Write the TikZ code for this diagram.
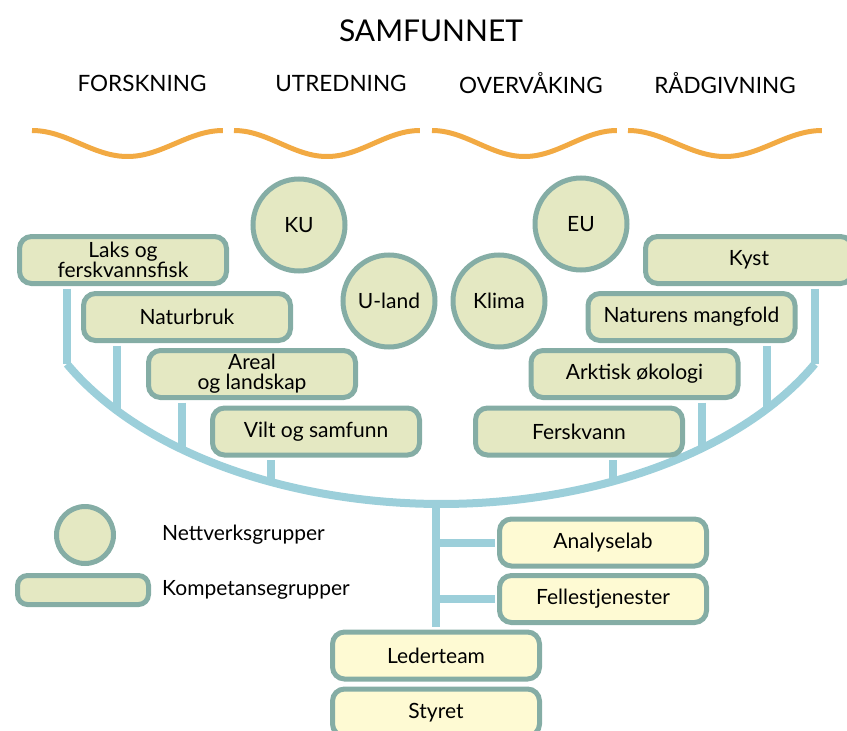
\documentclass[tikz,border=0pt]{standalone}
\usepackage{fontspec}
\setmainfont{Lato}
\definecolor{boxfill}{HTML}{E4E8C2}
\definecolor{bordc}{HTML}{85ADA5}
\definecolor{yelfill}{HTML}{FEFAD3}
\definecolor{conn}{HTML}{9CCFDA}
\definecolor{wave}{HTML}{F2AA43}
\newcommand{\boxfont}{\fontsize{21}{20}\selectfont}
\begin{document}
\begin{tikzpicture}[x=1pt,y=-1pt,
  cbox/.style={draw=bordc, line width=5pt, fill=boxfill, rounded corners=12pt,
    minimum width=207pt, minimum height=47pt, inner sep=0pt, align=center, font=\boxfont},
  ybox/.style={cbox, fill=yelfill},
  netw/.style={circle, draw=bordc, line width=5pt, fill=boxfill, minimum size=92pt,
    inner sep=0pt, font=\boxfont},
  link/.style={draw=conn, line width=8pt},
  wavy/.style={draw=wave, line width=5pt},
  head/.style={font=\fontsize{22.5}{24}\selectfont, inner sep=0pt},
  legtext/.style={font=\boxfont, anchor=west, inner sep=0pt}]
\useasboundingbox (0,0) rectangle (847,731);

% titles
\node[font=\fontsize{30}{32}\selectfont, inner sep=0pt] (samf) at (431,31) {SAMFUNNET};
\node[head] (h1) at (142,83) {FORSKNING};
\node[head] (h2) at (341,83) {UTREDNING};
\node[head] (h3) at (531,83) {OVERVÅKING};
\node[head] (h4) at (725,83) {RÅDGIVNING};

% waves
\foreach \xa/\xb in {32/223, 234/420, 432/617, 628/822}
  \draw[wavy] plot[domain=0:1, samples=60, smooth] ({\xa+\x*(\xb-\xa)}, {143.5-13*cos(360*\x)});

% arc coordinates
\coordinate (aL) at (67,364);
\coordinate (a2) at (117,411);
\coordinate (a3) at (182,450);
\coordinate (a4) at (271,483);
\coordinate (ab) at (436,505);
\coordinate (b4) at (613,482);
\coordinate (b3) at (702,449);
\coordinate (b2) at (767,410);
\coordinate (aR) at (815,364);

\draw[link] (aL) arc[start angle=207.1, end angle=332.9, x radius=420pt, y radius=257pt];

% competence groups
\node[cbox] (laks) at (123,260) {Laks og\\ferskvannsfisk};
\node[cbox] (natur) at (187,317) {Naturbruk};
\node[cbox] (areal) at (252,374) {Areal\\og landskap};
\node[cbox] (vilt) at (316,431.5) {Vilt og samfunn};
\node[cbox] (kyst) at (749,260) {Kyst};
\node[cbox] (mang) at (691.5,317) {Naturens mangfold};
\node[cbox] (arkt) at (634.5,374) {Arktisk økologi};
\node[cbox] (fersk) at (579,431.5) {Ferskvann};

% verticals from boxes to arc
\draw[link] ([yshift=-2.5pt]aL |- laks.south) -- (aL);
\draw[link] ([yshift=-2.5pt]a2 |- natur.south) -- (a2);
\draw[link] ([yshift=-2.5pt]a3 |- areal.south) -- (a3);
\draw[link] ([yshift=-2.5pt]a4 |- vilt.south) -- (a4);
\draw[link] ([yshift=-2.5pt]aR |- kyst.south) -- (aR);
\draw[link] ([yshift=-2.5pt]b2 |- mang.south) -- (b2);
\draw[link] ([yshift=-2.5pt]b3 |- arkt.south) -- (b3);
\draw[link] ([yshift=-2.5pt]b4 |- fersk.south) -- (b4);

% network groups
\node[netw] (ku) at (299,225) {KU};
\node[netw] (uland) at (389,301) {U-land};
\node[netw] (klima) at (499,301) {Klima};
\node[netw] (eu) at (581,224) {EU};

% lower part
\node[ybox] (anal) at (603,542.5) {Analyselab};
\node[ybox] (fell) at (603,599) {Fellestjenester};
\node[ybox] (led) at (436,655.5) {Lederteam};
\node[ybox] (sty) at (436,712.5) {Styret};
\coordinate (s1) at (led.north |- anal.west);
\coordinate (s2) at (led.north |- fell.west);
\draw[link] (ab) -- ([yshift=2.5pt]led.north);
\draw[link] (s1) -- ([xshift=-2.5pt]anal.west);
\draw[link] (s2) -- ([xshift=-2.5pt]fell.west);
\draw[link] ([yshift=-2.5pt]led.south) -- ([yshift=2.5pt]sty.north);

% legend
\node[circle, draw=bordc, line width=5pt, fill=boxfill, minimum size=57pt, inner sep=0pt] (legc) at (85,535) {};
\node[draw=bordc, line width=5pt, fill=boxfill, rounded corners=10pt, minimum width=131pt, minimum height=29pt, inner sep=0pt] (legr) at (83,590) {};
\node[legtext] (legct) at (162,535) {Nettverksgrupper};
\node[legtext] (legrt) at (162,590) {Kompetansegrupper};
\end{tikzpicture}
\end{document}
